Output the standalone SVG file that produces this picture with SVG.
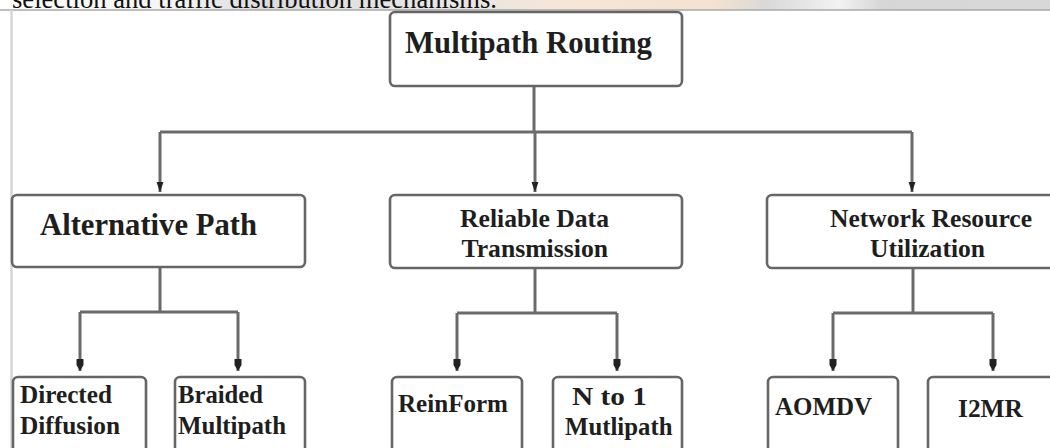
<svg xmlns="http://www.w3.org/2000/svg" width="1050" height="448" viewBox="0 0 1050 448">
<defs>
<linearGradient id="wm" x1="0" y1="0" x2="1" y2="0">
<stop offset="0" stop-color="#ffffff"/>
<stop offset="0.17" stop-color="#f4f4f4"/>
<stop offset="0.25" stop-color="#dcdcdc"/>
<stop offset="0.4" stop-color="#e6e6e6"/>
<stop offset="0.55" stop-color="#f7e6d6"/>
<stop offset="0.68" stop-color="#f5e2cf"/>
<stop offset="0.73" stop-color="#d9d9d9"/>
<stop offset="0.8" stop-color="#f2f2f2"/>
<stop offset="0.84" stop-color="#d6d6d6"/>
<stop offset="1" stop-color="#d8d8d8"/>
</linearGradient>
<marker id="arr" markerUnits="userSpaceOnUse" markerWidth="10" markerHeight="12" refX="5" refY="10" viewBox="0 0 10 12">
<path d="M1.5 0 L8.5 0 L5 10 Z" fill="#222"/>
</marker>
<marker id="arr2" markerUnits="userSpaceOnUse" markerWidth="10" markerHeight="14" refX="5" refY="12" viewBox="0 0 10 14">
<path d="M1.5 0 L8.5 0 L8.5 6 L5 12 L1.5 6 Z" fill="#222"/>
</marker>
</defs>
<style>
.box{fill:#ffffff;stroke:#666;stroke-width:2.6}
.lbl{font-family:"Liberation Serif","Times New Roman",serif;font-weight:bold;fill:#1e1e1e}
.conn{fill:none;stroke:#6a6a6a;stroke-width:3}
</style>
<rect x="0" y="0" width="1050" height="448" fill="#ffffff"/>
<rect x="0" y="0" width="1050" height="10" fill="url(#wm)"/>
<text x="12" y="7.5" font-family="Liberation Serif, serif" font-size="26.6" fill="#111" textLength="485" lengthAdjust="spacingAndGlyphs">selection and traffic distribution mechanisms.</text>
<line x1="0" y1="10" x2="1050" y2="10" stroke="#a8a8a8" stroke-width="1.5"/>
<line x1="11.5" y1="10" x2="11.5" y2="448" stroke="#d6d6d6" stroke-width="2.5"/>

<g id="connectors">
<path class="conn" d="M534 86 V132"/>
<path class="conn" d="M160 132 H912"/>
<path class="conn" d="M160 132 V192" marker-end="url(#arr)"/>
<path class="conn" d="M535 132 V192" marker-end="url(#arr)"/>
<path class="conn" d="M912 132 V192" marker-end="url(#arr)"/>
<path class="conn" d="M160 267 V312"/>
<path class="conn" d="M80 312 H238"/>
<path class="conn" d="M80 312 V371" marker-end="url(#arr2)"/>
<path class="conn" d="M238 312 V371" marker-end="url(#arr2)"/>
<path class="conn" d="M535 268 V313"/>
<path class="conn" d="M457 313 H617"/>
<path class="conn" d="M457 313 V371" marker-end="url(#arr2)"/>
<path class="conn" d="M617 313 V371" marker-end="url(#arr2)"/>
<path class="conn" d="M913 268 V313"/>
<path class="conn" d="M833 313 H993"/>
<path class="conn" d="M833 313 V371" marker-end="url(#arr2)"/>
<path class="conn" d="M993 313 V371" marker-end="url(#arr2)"/>
</g>

<g id="multipath-routing">
<rect class="box" x="390" y="12" width="292" height="74" rx="5"/>
<text class="lbl" x="405" y="53" font-size="31" textLength="247" lengthAdjust="spacingAndGlyphs">Multipath Routing</text>
</g>

<g id="alternative-path">
<rect class="box" x="12" y="195" width="293" height="72" rx="5"/>
<text class="lbl" x="40" y="235" font-size="30.5" textLength="217" lengthAdjust="spacingAndGlyphs">Alternative Path</text>
</g>

<g id="reliable-data-transmission">
<rect class="box" x="390" y="195" width="292" height="73" rx="5"/>
<text class="lbl" x="460" y="227" font-size="25.5" textLength="149" lengthAdjust="spacingAndGlyphs">Reliable Data</text>
<text class="lbl" x="461.5" y="257" font-size="25.5" textLength="146.5" lengthAdjust="spacingAndGlyphs">Transmission</text>
</g>

<g id="network-resource-utilization">
<rect class="box" x="767" y="195" width="300" height="73" rx="5"/>
<text class="lbl" x="830" y="227" font-size="25.5" textLength="202" lengthAdjust="spacingAndGlyphs">Network Resource</text>
<text class="lbl" x="870" y="257" font-size="25.5" textLength="115" lengthAdjust="spacingAndGlyphs">Utilization</text>
</g>

<g id="directed-diffusion">
<rect class="box" x="13" y="377" width="133" height="80" rx="5"/>
<text class="lbl" x="20" y="403" font-size="25" textLength="92" lengthAdjust="spacingAndGlyphs">Directed</text>
<text class="lbl" x="20" y="434" font-size="25" textLength="100" lengthAdjust="spacingAndGlyphs">Diffusion</text>
</g>

<g id="braided-multipath">
<rect class="box" x="175" y="377" width="130" height="80" rx="5"/>
<text class="lbl" x="178" y="403" font-size="25" textLength="85" lengthAdjust="spacingAndGlyphs">Braided</text>
<text class="lbl" x="178" y="434" font-size="25" textLength="108" lengthAdjust="spacingAndGlyphs">Multipath</text>
</g>

<g id="reinform">
<rect class="box" x="392" y="377" width="130" height="80" rx="5"/>
<text class="lbl" x="398" y="412" font-size="25" textLength="110" lengthAdjust="spacingAndGlyphs">ReinForm</text>
</g>

<g id="n-to-1-multipath">
<rect class="box" x="553" y="377" width="129" height="80" rx="5"/>
<text class="lbl" x="572" y="405" font-size="25" textLength="75" lengthAdjust="spacingAndGlyphs">N to 1</text>
<text class="lbl" x="565" y="435" font-size="25" textLength="107.5" lengthAdjust="spacingAndGlyphs">Mutlipath</text>
</g>

<g id="aomdv">
<rect class="box" x="768" y="377" width="130" height="80" rx="5"/>
<text class="lbl" x="775" y="415" font-size="25" textLength="97" lengthAdjust="spacingAndGlyphs">AOMDV</text>
</g>

<g id="i2mr">
<rect class="box" x="928" y="377" width="140" height="80" rx="5"/>
<text class="lbl" x="958" y="417" font-size="25" textLength="65" lengthAdjust="spacingAndGlyphs">I2MR</text>
</g>
</svg>
